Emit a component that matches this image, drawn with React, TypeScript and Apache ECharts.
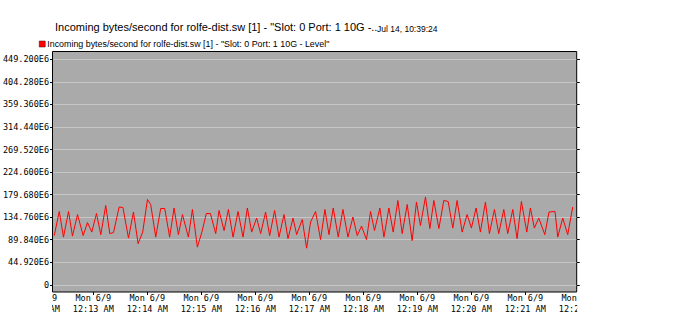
import React, { useEffect, useRef } from "react";
import * as echarts from "echarts";

// Sample times: seconds after Mon 6/9 12:12:00 AM
const sampleSeconds = [
  16.0, 21.6, 26.3, 31.9, 36.3, 41.9, 48.2, 53.0, 57.8, 63.0,
  67.8, 73.3, 77.8, 81.9, 88.2, 92.4, 98.6, 104.1, 109.3, 114.4,
  119.7, 123.3, 128.9, 134.4, 138.9, 144.4, 149.3, 154.1, 158.6, 165.2,
  169.7, 175.2, 180.2, 185.2, 189.7, 195.6, 199.3, 204.9, 209.7, 214.9,
  220.4, 226.0, 230.8, 235.6, 241.1, 245.6, 251.1, 255.6, 261.1, 266.0,
  271.6, 276.0, 281.6, 285.6, 291.9, 296.7, 301.1, 306.7, 312.2, 317.1,
  321.6, 326.3, 331.9, 337.1, 342.7, 348.2, 353.0, 357.8, 363.3, 367.8,
  372.2, 378.2, 382.7, 388.2, 393.0, 398.2, 403.0, 408.6, 414.1, 418.9,
  423.3, 428.9, 433.8, 438.2, 443.8, 449.3, 454.1, 459.3, 464.1, 469.7,
  475.2, 480.0, 485.2, 490.0, 495.6, 500.0, 505.6, 510.4, 516.0, 520.4,
  526.0, 530.8, 535.6, 541.6, 545.6, 550.0, 554.9, 561.6, 566.3, 573.0,
  576.0, 581.6, 587.1, 592.7,
];

// Incoming bytes/second, in millions (E6)
const incomingE6 = [
  98, 146, 95, 146, 97, 140, 98, 124, 105, 142,
  100, 158, 102, 104, 155, 154, 93, 145, 82, 105,
  170, 160, 95, 152, 152, 95, 153, 100, 140, 95,
  150, 75, 105, 142, 142, 102, 148, 108, 150, 95,
  146, 95, 153, 105, 133, 102, 145, 98, 148, 95,
  140, 92, 133, 100, 130, 73, 125, 146, 90, 150,
  100, 153, 95, 150, 95, 135, 98, 117, 90, 146,
  108, 153, 95, 153, 105, 168, 102, 160, 88, 165,
  118, 175, 112, 168, 112, 168, 166, 113, 168, 105,
  140, 113, 153, 105, 165, 102, 150, 102, 150, 102,
  150, 92, 166, 105, 153, 113, 133, 100, 145, 146,
  95, 133, 100, 155,
];

const yTickStepE6 = 44.92;
const yTickCount = 10;

const titleText = 'Incoming bytes/second for rolfe-dist.sw [1] - "Slot: 0 Port: 1 10G -..';
const stampText = "Jul 14, 10:39:24";
const seriesName = 'Incoming bytes/second for rolfe-dist.sw [1] - "Slot: 0 Port: 1 10G - Level"';

const MONO = "'DejaVu Sans Mono', 'Liberation Mono', monospace";
const SANS = "'Liberation Sans', 'DejaVu Sans', sans-serif";

export default function App() {
  const ref = useRef<HTMLDivElement>(null);
  useEffect(() => {
    if (!ref.current) return;
    document.body.style.margin = "0";
    const chart = echarts.init(ref.current, null, { renderer: "svg" });
    const base = new Date(2014, 5, 9, 0, 12, 0).getTime();
    const data = sampleSeconds.map((s, i) => [base + s * 1000, incomingE6[i] * 1e6]);
    const yMax = yTickStepE6 * yTickCount * 1e6;
    const yStep = yTickStepE6 * 1e6;
    const fmtX = (v: number) => {
      const d = new Date(v);
      const days = ["Sun", "Mon", "Tue", "Wed", "Thu", "Fri", "Sat"];
      let h = d.getHours();
      const ampm = h < 12 ? "AM" : "PM";
      h = h % 12;
      if (h === 0) h = 12;
      const mm = String(d.getMinutes()).padStart(2, "0");
      return `${days[d.getDay()]} ${d.getMonth() + 1}/${d.getDate()}\n${h}:${mm} ${ampm}`;
    };
    const fmtY = (v: number) => (v === 0 ? "0" : (v / 1e6).toFixed(3) + "E6");

    chart.setOption({
      animation: false,
      backgroundColor: "#ffffff",
      title: [
        {
          text: titleText,
          left: 55,
          top: 21,
          padding: 0,
          textStyle: { fontFamily: SANS, fontSize: 11, fontWeight: "normal", color: "#000" },
        },
        {
          text: stampText,
          left: 377,
          top: 24.5,
          padding: 0,
          textStyle: { fontFamily: SANS, fontSize: 8.5, fontWeight: "normal", color: "#000" },
        },
      ],
      legend: {
        left: 39,
        top: 39.5,
        padding: 0,
        itemWidth: 6,
        itemHeight: 6,
        icon: "rect",
        data: [{ name: seriesName, itemStyle: { color: "#ff0000", borderColor: "#400000", borderWidth: 0.5 } }],
        textStyle: { fontFamily: SANS, fontSize: 8.9, color: "#000", padding: [0, 0, 0, -3] },
      },
      grid: [
        { left: 52.5, right: 109.3, top: 59.3, bottom: 48.2, show: false },
        { left: 39.3, right: 106.7, top: 51.5, bottom: 41, show: false },
        {
          left: 52.5, right: 109.3, top: 51.5, bottom: 41, show: true,
          backgroundColor: "#aaaaaa", borderColor: "#000000", borderWidth: 1,
        },
      ],
      xAxis: [
        {
          gridIndex: 0, type: "value", show: false,
          min: base + 14.7 * 1000, max: base + 597.1 * 1000,
        },
        {
          gridIndex: 1, type: "value",
          min: base, max: base + 600 * 1000, interval: 60000,
          axisLine: { show: false },
          axisTick: { show: true, length: 3, lineStyle: { color: "#000" } },
          splitLine: { show: false },
          axisLabel: {
            formatter: fmtX, margin: 1, fontFamily: MONO, fontSize: 8.5, lineHeight: 10.5,
            color: "#000", showMinLabel: true, showMaxLabel: true,
          },
        },
        { gridIndex: 2, type: "value", show: false, min: 0, max: 1 },
      ],
      yAxis: [
        {
          gridIndex: 0, type: "value", position: "left",
          min: 0, max: yMax, interval: yStep,
          axisLine: { show: false },
          axisTick: { show: true, length: 3, lineStyle: { color: "#000" } },
          axisLabel: { formatter: fmtY, margin: 4, fontFamily: MONO, fontSize: 8.5, color: "#000" },
          splitLine: { show: true, lineStyle: { color: "#c6c6c6", width: 1 } },
        },
        {
          gridIndex: 0, type: "value", position: "right",
          min: 0, max: yMax, interval: yStep,
          axisLine: { show: false },
          axisTick: { show: true, length: 3, lineStyle: { color: "#000" } },
          axisLabel: { show: false },
          splitLine: { show: false },
        },
        { gridIndex: 1, type: "value", show: false, min: 0, max: 1 },
        { gridIndex: 2, type: "value", show: false, min: 0, max: 1 },
      ],
      series: [
        {
          name: seriesName,
          type: "line",
          xAxisIndex: 0,
          yAxisIndex: 0,
          data,
          showSymbol: false,
          symbol: "none",
          color: "#ff0000",
          lineStyle: { color: "#ff0000", width: 1 },
          z: 3,
        },
      ],
      graphic: [
        { type: "rect", z: 100, silent: true, shape: { x: 0, y: 291.6, width: 52, height: 42 }, style: { fill: "#ffffff" } },
        { type: "rect", z: 100, silent: true, shape: { x: 577.2, y: 291.6, width: 109, height: 42 }, style: { fill: "#ffffff" } },
      ],
    });
    return () => chart.dispose();
  }, []);
  return <div ref={ref} style={{ width: 686, height: 333 }} />;
}
